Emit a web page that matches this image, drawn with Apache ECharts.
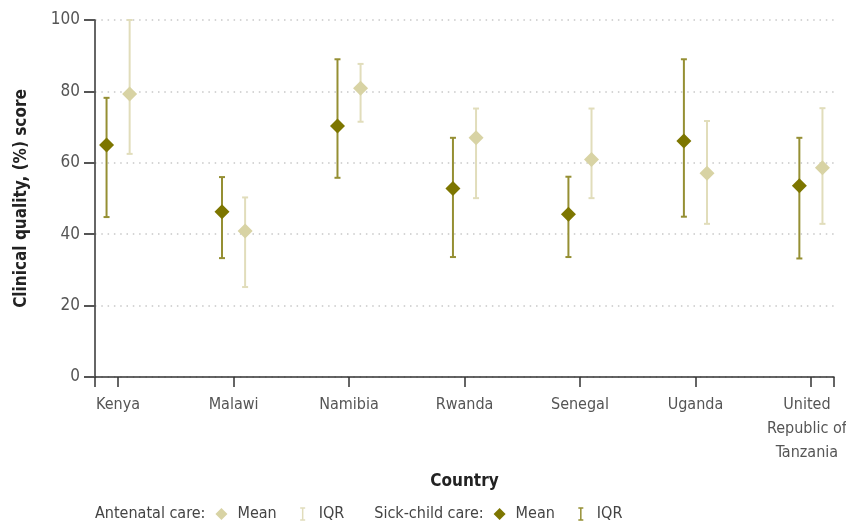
<!DOCTYPE html>
<html>
<head>
<meta charset="utf-8">
<script src="https://cdn.jsdelivr.net/npm/echarts@6/dist/echarts.min.js"></script>
<style>html,body{margin:0;padding:0;background:#fff;}#c{width:846px;height:523px;}</style>
</head>
<body>
<div id="c"></div>
<script>
var countries = ['Kenya', 'Malawi', 'Namibia', 'Rwanda', 'Senegal', 'Uganda', 'United\nRepublic of\nTanzania'];
var sickMean = [65, 46.3, 70.3, 52.8, 45.6, 66.1, 53.6];
var sickLow  = [44.8, 33.3, 55.8, 33.6, 33.6, 44.9, 33.2];
var sickHigh = [78.2, 56, 89, 67, 56.1, 89, 67];
var ancMean = [79.3, 40.9, 80.9, 67, 60.9, 57.1, 58.6];
var ancLow  = [62.5, 25.2, 71.5, 50.1, 50.1, 42.9, 42.9];
var ancHigh = [100, 50.3, 87.7, 75.2, 75.2, 71.7, 75.3];
var yTicks = [0, 20, 40, 60, 80, 100];

var FONT = "'Liberation Sans Narrow', 'DejaVu Sans Condensed', 'Noto Sans', sans-serif";
var DARK = '#7d7600', DARK_LINE = '#958f33';
var LIGHT = '#d8d3a4', LIGHT_LINE = '#e1ddbb';
var OFF = 0.1;

function errData(low, high, off) {
  return countries.map(function (c, i) { return [i + off, low[i], high[i]]; });
}
function meanData(mean, off) {
  return countries.map(function (c, i) { return [i + off, mean[i]]; });
}
function errRender(color) {
  return function (params, api) {
    var x = api.value(0);
    var lo = api.coord([x, api.value(1)]);
    var hi = api.coord([x, api.value(2)]);
    var hw = 3;
    var st = { stroke: color, lineWidth: 2 };
    return {
      type: 'group',
      children: [
        { type: 'line', shape: { x1: lo[0], y1: lo[1], x2: hi[0], y2: hi[1] }, style: st },
        { type: 'line', shape: { x1: hi[0] - hw, y1: hi[1], x2: hi[0] + hw, y2: hi[1] }, style: st },
        { type: 'line', shape: { x1: lo[0] - hw, y1: lo[1], x2: lo[0] + hw, y2: lo[1] }, style: st }
      ]
    };
  };
}

var chart = echarts.init(document.getElementById('c'));
var legendY = 514;
var LFONT = '16px ' + FONT;
var mctx = document.createElement('canvas').getContext('2d');
mctx.font = LFONT;
function tw(t) { return mctx.measureText(t).width; }
function lt(x, text) {
  return { type: 'text', x: x, y: legendY, style: { text: text, font: LFONT, fill: '#444', verticalAlign: 'middle' } };
}
function ld(x, color) {
  return { type: 'polygon', x: x, y: legendY, shape: { points: [[0, -6], [6, 0], [0, 6], [-6, 0]] }, style: { fill: color } };
}
function li(x, color) {
  return { type: 'group', x: x, y: legendY, children: [
    { type: 'line', shape: { x1: 0, y1: -6, x2: 0, y2: 6 }, style: { stroke: color, lineWidth: 1.5 } },
    { type: 'line', shape: { x1: -2.5, y1: -6, x2: 2.5, y2: -6 }, style: { stroke: color, lineWidth: 1.5 } },
    { type: 'line', shape: { x1: -2.5, y1: 6, x2: 2.5, y2: 6 }, style: { stroke: color, lineWidth: 1.5 } }
  ] };
}
var graphics = [];
var cx = 95;
function group(label, dcol, icol) {
  graphics.push(lt(cx, label)); cx += tw(label) + 16;
  graphics.push(ld(cx, dcol)); cx += 16;
  graphics.push(lt(cx, 'Mean')); cx += tw('Mean') + 26;
  graphics.push(li(cx, icol)); cx += 16;
  graphics.push(lt(cx, 'IQR')); cx += tw('IQR') + 30;
}
group('Antenatal care:', LIGHT, LIGHT_LINE);
group('Sick-child care:', DARK, DARK_LINE);

chart.setOption({
  animation: false,
  grid: { left: 95, right: 12, top: 20, bottom: 146, containLabel: false, outerBoundsMode: 'none' },
  xAxis: {
    type: 'value', min: -0.2, max: 6.2,
    name: 'Country', nameLocation: 'middle', nameGap: 96,
    nameTextStyle: { fontFamily: FONT, fontWeight: 'bold', fontSize: 17, color: '#222' },
    axisLine: { show: true, onZero: false, lineStyle: { color: '#333', width: 1.5 } },
    axisTick: { show: true, length: 10, lineStyle: { color: '#333', width: 1.5 }, customValues: [-0.2, 0, 1, 2, 3, 4, 5, 6, 6.2] },
    axisLabel: {
      customValues: [0, 1, 2, 3, 4, 5, 6],
      formatter: function (v) {
        var s = countries[Math.round(v)];
        if (s.indexOf('\n') < 0) return s;
        return s.split('\n').map(function (l) { return '{r|' + l + '}'; }).join('\n');
      },
      rich: { r: { fontFamily: FONT, fontSize: 16, color: '#555', lineHeight: 24, padding: [0, 8, 0, 0] } },
      fontFamily: FONT, fontSize: 16, color: '#555', lineHeight: 24, margin: 16, verticalAlign: 'top'
    },
    splitLine: { show: false }
  },
  yAxis: {
    type: 'value', min: 0, max: 100, interval: 20,
    name: 'Clinical quality, (%) score', nameLocation: 'middle', nameGap: 65,
    nameTextStyle: { fontFamily: FONT, fontWeight: 'bold', fontSize: 17, color: '#222' },
    axisLine: { show: true, onZero: false, lineStyle: { color: '#333', width: 1.5 } },
    axisTick: { show: true, length: 11, lineStyle: { color: '#555', width: 2 } },
    axisLabel: { fontFamily: FONT, fontSize: 17, color: '#555', margin: 15,
      formatter: function (v) { return yTicks.indexOf(v) >= 0 ? String(v) : ''; } },
    splitLine: { show: true, lineStyle: { color: '#c8c8c8', width: 1.5, type: [1.5, 4.8] } }
  },
  series: [
    { type: 'custom', name: 'Sick-child IQR', renderItem: errRender(DARK_LINE), data: errData(sickLow, sickHigh, -OFF), encode: { x: 0, y: [1, 2] }, z: 2 },
    { type: 'custom', name: 'Antenatal IQR', renderItem: errRender(LIGHT_LINE), data: errData(ancLow, ancHigh, OFF), encode: { x: 0, y: [1, 2] }, z: 2 },
    { type: 'scatter', name: 'Sick-child mean', symbol: 'diamond', symbolSize: [15, 15], itemStyle: { color: DARK, opacity: 1 }, data: meanData(sickMean, -OFF), z: 3 },
    { type: 'scatter', name: 'Antenatal mean', symbol: 'diamond', symbolSize: [15, 15], itemStyle: { color: LIGHT, opacity: 1 }, data: meanData(ancMean, OFF), z: 3 }
  ],
  graphic: graphics
});
</script>
</body>
</html>
